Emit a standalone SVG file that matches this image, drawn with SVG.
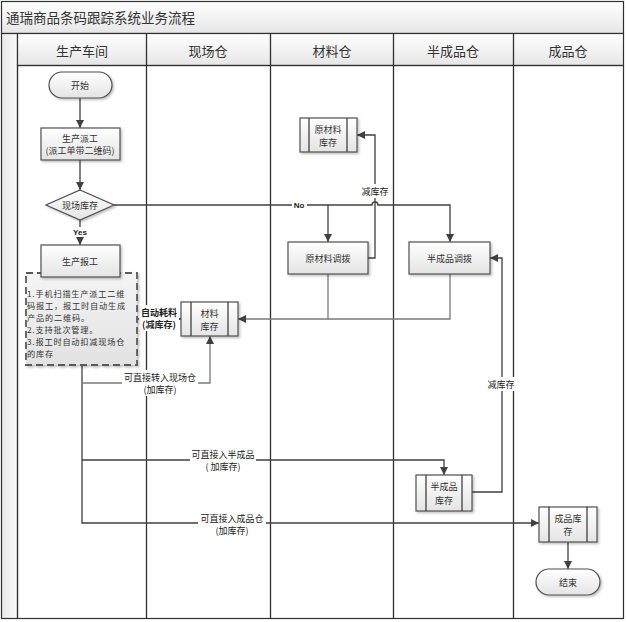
<svg xmlns="http://www.w3.org/2000/svg" width="627" height="622" viewBox="0 0 627 622">
<defs>
<linearGradient id="gBox" x1="0" y1="0" x2="0" y2="1"><stop offset="0" stop-color="#ffffff"/><stop offset="1" stop-color="#e4e4e4"/></linearGradient>
<linearGradient id="gHead" x1="0" y1="0" x2="0" y2="1"><stop offset="0" stop-color="#ffffff"/><stop offset="1" stop-color="#e6e6e6"/></linearGradient>
<linearGradient id="gSide" x1="0" y1="0" x2="1" y2="0"><stop offset="0" stop-color="#e8e8e8"/><stop offset="1" stop-color="#fafafa"/></linearGradient>
<linearGradient id="gNote" x1="0" y1="0" x2="0" y2="1"><stop offset="0" stop-color="#f4f4f4"/><stop offset="1" stop-color="#e2e2e2"/></linearGradient>
<filter id="sh" x="-10%" y="-10%" width="130%" height="140%"><feDropShadow dx="1.5" dy="1.5" stdDeviation="1" flood-color="#000" flood-opacity="0.25"/></filter>
<marker id="ar" markerUnits="userSpaceOnUse" markerWidth="9" markerHeight="9" refX="8" refY="4" orient="auto"><path d="M0,0 L8,4 L0,8 z" fill="#404040"/></marker>
<style>
.t{font-family:"Noto Sans CJK SC","Liberation Sans",sans-serif;fill:#333;text-anchor:middle;dominant-baseline:central}
.box{fill:url(#gBox);stroke:#505050;stroke-width:1.2;filter:url(#sh)}
.ln{fill:none;stroke:#404040;stroke-width:1.3}
.lg{fill:none;stroke:#7a7a7a;stroke-width:1.3}
.lane{fill:none;stroke:#303030;stroke-width:1.3}
.lbl{font-family:"Noto Sans CJK SC","Liberation Sans",sans-serif;fill:#222;text-anchor:middle;dominant-baseline:central;font-size:9px}
.yn{font-family:"Liberation Sans",sans-serif;font-weight:bold;font-size:8px;fill:#222;text-anchor:middle;dominant-baseline:central}
</style>
</defs>
<rect width="627" height="622" fill="#ffffff"/>
<g id="pool">
<rect x="1.5" y="1.5" width="622" height="32" fill="url(#gHead)" stroke="#303030" stroke-width="1.2"/>
<text class="t" x="6" y="17" style="text-anchor:start;font-size:13.5px">通瑞商品条码跟踪系统业务流程</text>
<rect x="1.5" y="33.5" width="16" height="585" fill="url(#gSide)" stroke="#303030" stroke-width="1.2"/>
<rect x="17.5" y="33.5" width="606" height="32" fill="url(#gHead)" stroke="#303030" stroke-width="1.2"/>
<rect x="17.5" y="65.5" width="606" height="553" fill="none" stroke="#303030" stroke-width="1.2"/>
<line class="lane" x1="146.5" y1="33.5" x2="146.5" y2="618.5"/>
<line class="lane" x1="270.5" y1="33.5" x2="270.5" y2="618.5"/>
<line class="lane" x1="393.5" y1="33.5" x2="393.5" y2="618.5"/>
<line class="lane" x1="513.5" y1="33.5" x2="513.5" y2="618.5"/>
<text class="t" x="82" y="50" style="font-size:13px">生产车间</text>
<text class="t" x="208" y="50" style="font-size:13px">现场仓</text>
<text class="t" x="332" y="50" style="font-size:13px">材料仓</text>
<text class="t" x="453" y="50" style="font-size:13px">半成品仓</text>
<text class="t" x="568" y="50" style="font-size:13px">成品仓</text>
</g>
<g id="connectors">
<line class="ln" x1="80" y1="98" x2="80" y2="128" marker-end="url(#ar)"/>
<line class="ln" x1="80" y1="160" x2="80" y2="190" marker-end="url(#ar)"/>
<line class="ln" x1="80" y1="220" x2="80" y2="245" marker-end="url(#ar)"/>
<rect x="71" y="227" width="18" height="10" fill="#fff"/>
<text class="yn" x="80" y="232">Yes</text>
<path class="ln" d="M114,205 H372 A3,3 0 0 1 378,205 H450 V242" marker-end="url(#ar)"/>
<path class="ln" d="M328,205 V242" marker-end="url(#ar)"/>
<rect x="292" y="200" width="15" height="10" fill="#fff"/>
<text class="yn" x="299" y="205">No</text>
<path class="ln" d="M368,258 H375 V135 H357" marker-end="url(#ar)"/>
<rect x="360" y="184" width="30" height="14" fill="#fff"/>
<text class="lbl" x="375" y="191">减库存</text>
<path class="lg" d="M328,274 V319 H238" marker-end="url(#ar)"/>
<path class="lg" d="M450,274 V319 H328"/>
<path class="ln" d="M137,319 H181" marker-end="url(#ar)"/>
<rect x="139" y="305" width="40" height="26" fill="#fff"/>
<text class="lbl" x="159" y="312" style="font-weight:bold">自动耗料</text>
<text class="lbl" x="159" y="324" style="font-weight:bold">(减库存)</text>
<path class="ln" d="M82,365 V523 H539" marker-end="url(#ar)"/>
<path class="lg" d="M82,383 H210 V336" marker-end="url(#ar)"/>
<rect x="122" y="370" width="76" height="26" fill="#fff"/>
<text class="lbl" x="160" y="377">可直接转入现场仓</text>
<text class="lbl" x="160" y="389">(加库存)</text>
<path class="ln" d="M82,460 H444 V475" marker-end="url(#ar)"/>
<rect x="190" y="447" width="66" height="26" fill="#fff"/>
<text class="lbl" x="223" y="454">可直接入半成品</text>
<text class="lbl" x="223" y="466">( 加库存)</text>
<rect x="198" y="511" width="68" height="26" fill="#fff"/>
<text class="lbl" x="232" y="518">可直接入成品仓</text>
<text class="lbl" x="232" y="530">(加库存)</text>
<path class="ln" d="M472,492 H502 V258 H490" marker-end="url(#ar)"/>
<rect x="487" y="377" width="30" height="14" fill="#fff"/>
<text class="lbl" x="501" y="384">减库存</text>
<line class="ln" x1="568" y1="542" x2="568" y2="569" marker-end="url(#ar)"/>
</g>
<g id="start">
<rect class="box" x="49" y="72" width="63" height="26" rx="13"/>
<text class="t" x="80" y="85" style="font-size:9px">开始</text>
</g>
<g id="dispatch">
<rect class="box" x="41" y="128" width="79" height="32"/>
<text class="t" x="80" y="138" style="font-size:9px">生产派工</text>
<text class="t" x="80" y="150" style="font-size:9px">(派工单带二维码)</text>
</g>
<g id="decision">
<polygon class="box" points="80,190 114,205 80,220 46,205"/>
<text class="t" x="80" y="205" style="font-size:9px">现场库存</text>
</g>
<g id="note">
<rect x="26" y="273" width="111" height="92" fill="url(#gNote)" stroke="#5a5a5a" stroke-width="1.8" stroke-dasharray="7,4" filter="url(#sh)"/>
<g class="t" style="text-anchor:start;font-size:8.2px;letter-spacing:0.8px">
<text x="27" y="293">1.手机扫描生产派工二维</text>
<text x="27" y="305">码报工，报工时自动生成</text>
<text x="27" y="317">产品的二维码。</text>
<text x="27" y="329">2.支持批次管理。</text>
<text x="27" y="341">3.报工时自动扣减现场仓</text>
<text x="27" y="353">的库存</text>
</g>
</g>
<g id="report">
<rect class="box" x="41" y="245" width="79" height="32"/>
<text class="t" x="80" y="261" style="font-size:9px">生产报工</text>
</g>
<g id="mat-stock">
<rect class="box" x="181" y="302" width="57" height="34"/>
<line class="ln" x1="191" y1="302" x2="191" y2="336"/>
<line class="ln" x1="228" y1="302" x2="228" y2="336"/>
<text class="t" x="209.5" y="313" style="font-size:9px">材料</text>
<text class="t" x="209.5" y="326" style="font-size:9px">库存</text>
</g>
<g id="raw-stock">
<rect class="box" x="300" y="118" width="57" height="34"/>
<line class="ln" x1="309" y1="118" x2="309" y2="152"/>
<line class="ln" x1="347" y1="118" x2="347" y2="152"/>
<text class="t" x="328" y="129" style="font-size:9px">原材料</text>
<text class="t" x="328" y="142" style="font-size:9px">库存</text>
</g>
<g id="raw-transfer">
<rect class="box" x="288" y="242" width="80" height="32"/>
<text class="t" x="328" y="258" style="font-size:9px">原材料调拨</text>
</g>
<g id="semi-transfer">
<rect class="box" x="409" y="242" width="81" height="32"/>
<text class="t" x="449.5" y="258" style="font-size:9px">半成品调拨</text>
</g>
<g id="semi-stock">
<rect class="box" x="416" y="475" width="56" height="36"/>
<line class="ln" x1="426" y1="475" x2="426" y2="511"/>
<line class="ln" x1="462" y1="475" x2="462" y2="511"/>
<text class="t" x="444" y="486" style="font-size:9px">半成品</text>
<text class="t" x="444" y="500" style="font-size:9px">库存</text>
</g>
<g id="fin-stock">
<rect class="box" x="539" y="507" width="58" height="35"/>
<line class="ln" x1="549" y1="507" x2="549" y2="542"/>
<line class="ln" x1="587" y1="507" x2="587" y2="542"/>
<text class="t" x="568" y="518" style="font-size:9px">成品库</text>
<text class="t" x="568" y="531" style="font-size:9px">存</text>
</g>
<g id="end">
<rect class="box" x="536" y="569" width="64" height="26" rx="13"/>
<text class="t" x="568" y="582" style="font-size:9px">结束</text>
</g>
</svg>
